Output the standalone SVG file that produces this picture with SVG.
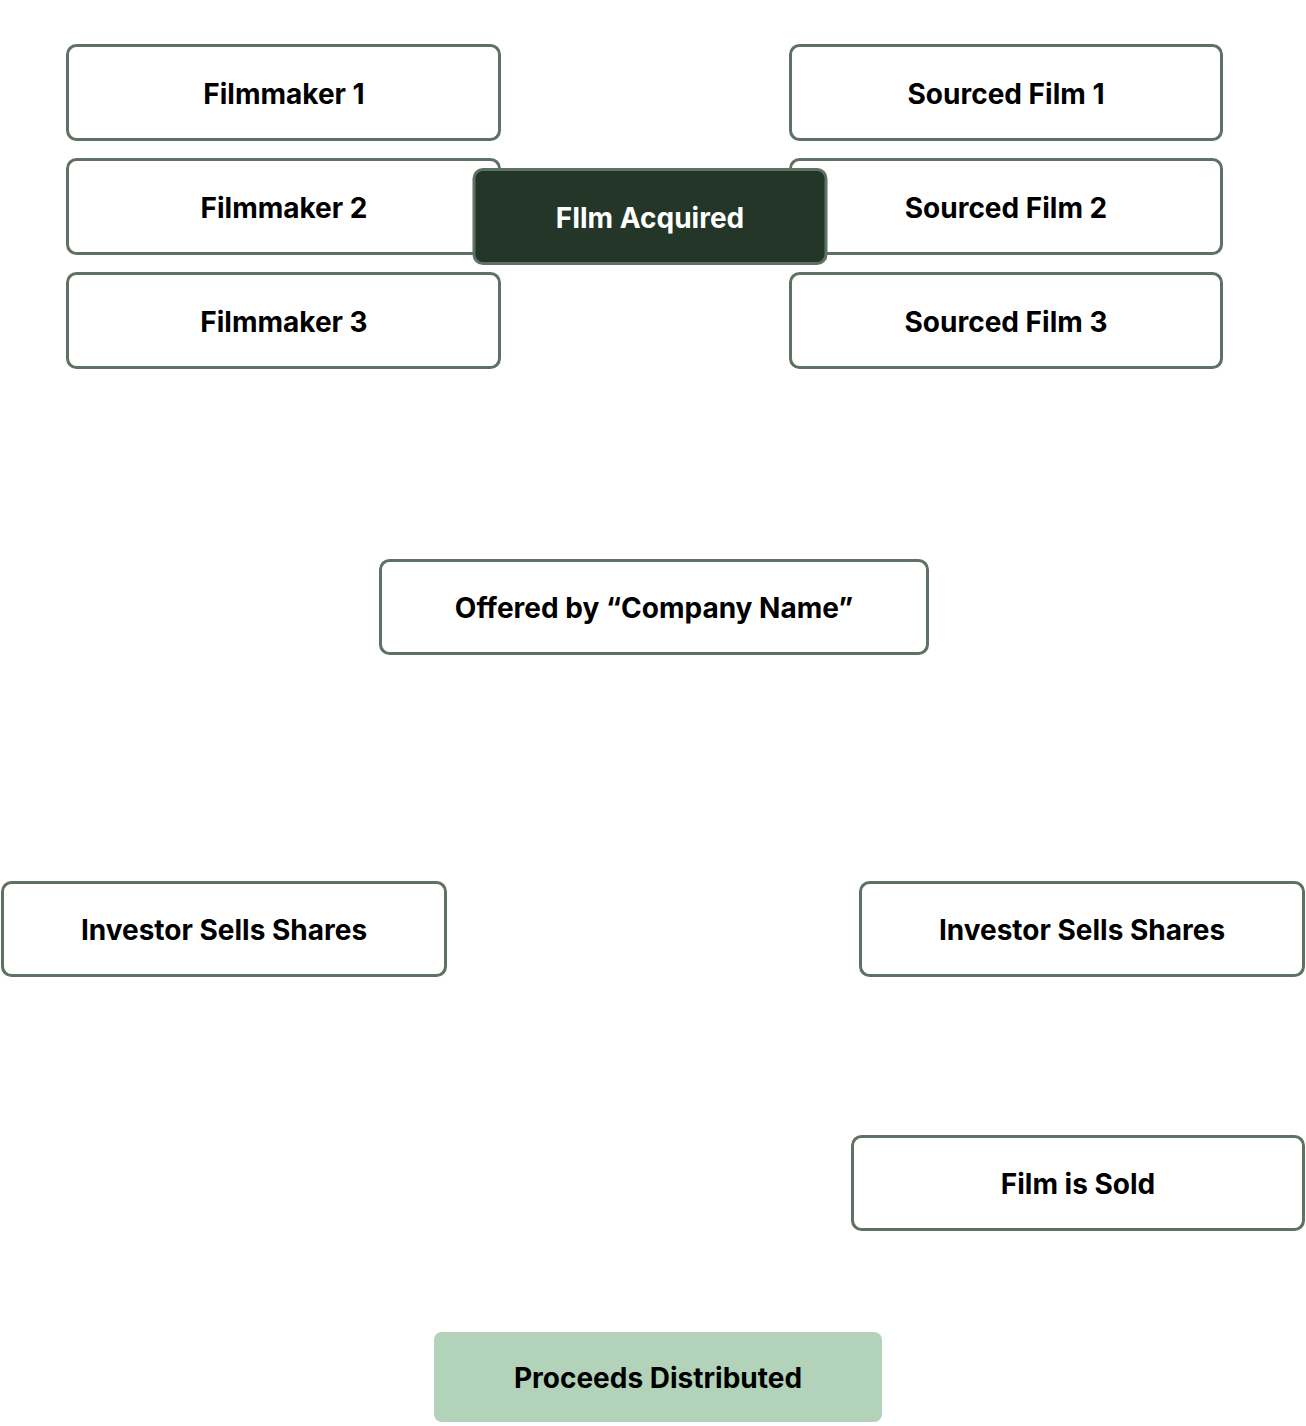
<svg xmlns="http://www.w3.org/2000/svg" width="1306" height="1426" viewBox="0 0 1306 1426">
<style>
.box{fill:#ffffff;stroke:#5d7262;stroke-width:3}
.dark{fill:#233627;stroke:#5d7262;stroke-width:3}
.green{fill:#b2d2b9}
.t{font-family:Inter,"Liberation Sans",sans-serif;font-weight:700;font-size:28px;fill:#000;text-anchor:middle}
.tw{fill:#ffffff}
</style>
<rect width="1306" height="1426" fill="#ffffff"/>
<g id="connectors"></g>
<g id="filmmaker1"><rect class="box" x="67.5" y="45.5" width="432" height="94" rx="9"/><text class="t" x="284" y="104">Filmmaker 1</text></g>
<g id="filmmaker2"><rect class="box" x="67.5" y="159.5" width="432" height="94" rx="9"/><text class="t" x="284" y="218">Filmmaker 2</text></g>
<g id="filmmaker3"><rect class="box" x="67.5" y="273.5" width="432" height="94" rx="9"/><text class="t" x="284" y="332">Filmmaker 3</text></g>
<g id="sourced1"><rect class="box" x="790.5" y="45.5" width="431" height="94" rx="9"/><text class="t" x="1006" y="104">Sourced Film 1</text></g>
<g id="sourced2"><rect class="box" x="790.5" y="159.5" width="431" height="94" rx="9"/><text class="t" x="1006" y="218">Sourced Film 2</text></g>
<g id="sourced3"><rect class="box" x="790.5" y="273.5" width="431" height="94" rx="9"/><text class="t" x="1006" y="332">Sourced Film 3</text></g>
<g id="film-acquired"><rect class="dark" x="474" y="169.5" width="352" height="94" rx="9"/><text class="t tw" x="650" y="228">FIlm Acquired</text></g>
<g id="offered"><rect class="box" x="380.5" y="560.5" width="547" height="93" rx="9"/><text class="t" x="654" y="618">Offered by “Company Name”</text></g>
<g id="investor-left"><rect class="box" x="2.5" y="882.5" width="443" height="93" rx="9"/><text class="t" x="224" y="940">Investor Sells Shares</text></g>
<g id="investor-right"><rect class="box" x="860.5" y="882.5" width="443" height="93" rx="9"/><text class="t" x="1082" y="940">Investor Sells Shares</text></g>
<g id="film-sold"><rect class="box" x="852.5" y="1136.5" width="451" height="93" rx="9"/><text class="t" x="1078" y="1194">Film is Sold</text></g>
<g id="proceeds"><rect class="green" x="434" y="1332" width="448" height="90" rx="8"/><text class="t" x="658" y="1388">Proceeds Distributed</text></g>
</svg>
